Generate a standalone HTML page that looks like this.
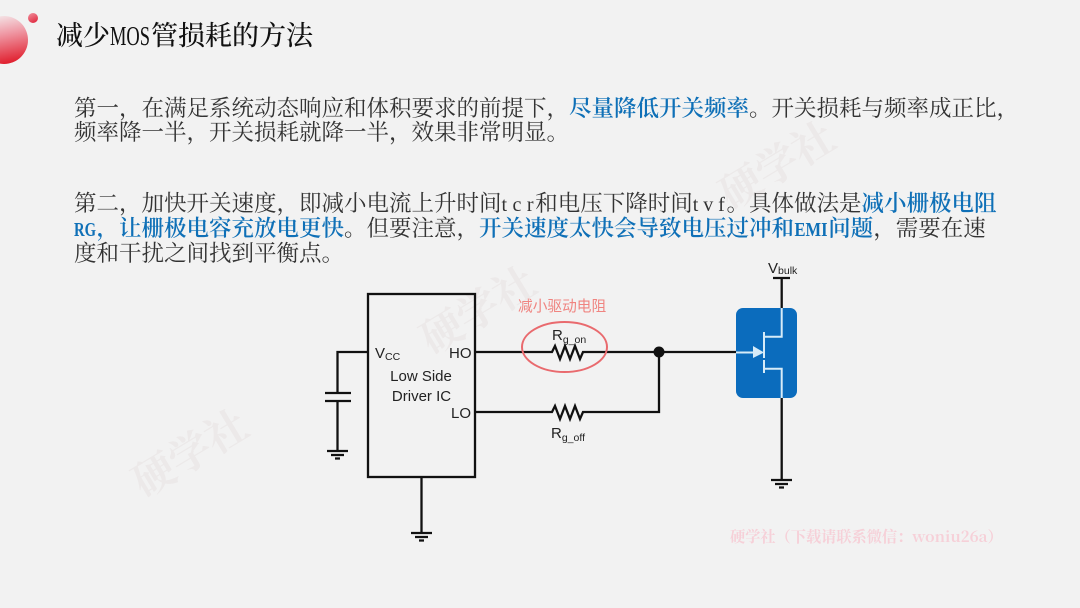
<!DOCTYPE html>
<html lang="zh">
<head>
<meta charset="utf-8">
<style>
html,body{margin:0;padding:0;background:#f2f2f2;width:1080px;height:608px;overflow:hidden}
svg{display:block;filter:blur(0.35px)}
.t{font-family:"Noto Serif CJK SC",serif;font-size:22.5px;fill:#333}
.h{font-family:"Liberation Serif",serif;font-size:20px;fill:#333}
.b{fill:#0f70b7;font-weight:600}
.w{font-family:"Noto Serif CJK SC",serif;font-size:42px;font-weight:700;fill:#ecE9e9}
.l{font-family:"Liberation Sans",sans-serif;font-size:15px;fill:#222}
.s{font-size:10.5px}
.k{fill:none;stroke:#111;stroke-width:2.3}
.m{fill:none;stroke:#d6ebf8;stroke-width:2}
</style>
</head>
<body>
<svg width="1080" height="608" viewBox="0 0 1080 608" xmlns="http://www.w3.org/2000/svg">
<defs>
<linearGradient id="g" x1="0.3" y1="0" x2="0.5" y2="1">
<stop offset="0" stop-color="#f4e6e8"/>
<stop offset="0.4" stop-color="#ef98a4"/>
<stop offset="1" stop-color="#e0202f"/>
</linearGradient>
<linearGradient id="g2" x1="0.2" y1="0" x2="0.7" y2="1">
<stop offset="0" stop-color="#f08a98"/>
<stop offset="1" stop-color="#e02a40"/>
</linearGradient>
</defs>
<rect width="1080" height="608" fill="#f2f2f2"/>
<circle cx="4" cy="40" r="24" fill="url(#g)"/>
<circle cx="33" cy="18" r="5" fill="url(#g2)"/>

<text x="56" y="45" font-family="'Noto Serif CJK SC',serif" font-size="27" fill="#111" font-weight="500">减少</text>
<text x="110" y="45" font-family="'Liberation Serif',serif" font-size="27" fill="#111" textLength="40" lengthAdjust="spacingAndGlyphs">MOS</text>
<text x="151" y="45" font-family="'Noto Serif CJK SC',serif" font-size="27" fill="#111" font-weight="500">管损耗的方法</text>

<g transform="rotate(-31 190 453)"><text class="w" x="190" y="468" text-anchor="middle">硬学社</text></g>
<g transform="rotate(-31 478 310)"><text class="w" x="478" y="325" text-anchor="middle">硬学社</text></g>
<g transform="rotate(-31 777 165)"><text class="w" x="777" y="180" text-anchor="middle">硬学社</text></g>

<text class="t" x="74" y="116">第一，在满足系统动态响应和体积要求的前提下，<tspan class="b">尽量降低开关频率</tspan>。开关损耗与频率成正比，</text>
<text class="t" x="74" y="140">频率降一半，开关损耗就降一半，效果非常明显。</text>

<text class="t" x="74" y="211">第二，加快开关速度，即减小电流上升时间</text>
<text class="h" x="501.500" y="211" textLength="32" lengthAdjust="spacing">tcr</text>
<text class="t" x="535.250" y="211">和电压下降时间</text>
<text class="h" x="692.750" y="211" textLength="32" lengthAdjust="spacing">tvf</text>
<text class="t" x="726.500" y="211">。具体做法是<tspan class="b">减小栅极电阻</tspan></text>

<text class="h b" x="74" y="236" textLength="22" lengthAdjust="spacingAndGlyphs">RG</text>
<text class="t" x="96.500" y="236"><tspan class="b">，让栅极电容充放电更快</tspan>。但要注意，<tspan class="b">开关速度太快会导致电压过冲和</tspan></text>
<text class="h b" x="794.500" y="236" textLength="33" lengthAdjust="spacingAndGlyphs">EMI</text>
<text class="t" x="828.250" y="236"><tspan class="b">问题</tspan>，需要在速</text>

<text class="t" x="74" y="261">度和干扰之间找到平衡点。</text>

<!-- IC -->
<rect class="k" x="368" y="294" width="107" height="183"/>
<!-- VCC and capacitor -->
<path class="k" d="M368 352H337.5V393M325 393H351M325 401H351M337.5 401V451"/>
<path class="k" d="M327 451H348M331 455H344M335 458.500H340"/>
<!-- IC ground -->
<path class="k" d="M421.500 477V533M411 533H432M415 537H428M419 540.500H424"/>
<!-- HO/LO -->
<path class="k" d="M475 352H552L555 346L560 359L565 346L570 359L575 346L580 359L583 352H737"/>
<path class="k" d="M475 412H552L555 406L560 419L565 406L570 419L575 406L580 419L583 412H659V352"/>
<circle cx="659" cy="352" r="5.500" fill="#111"/>
<ellipse cx="564.500" cy="347" rx="42.500" ry="25" fill="none" stroke="#e96a6e" stroke-width="2"/>
<text x="518" y="311" font-family="'Liberation Sans','Noto Sans CJK SC',sans-serif" font-size="14.700" fill="#f08480">减小驱动电阻</text>

<!-- MOSFET -->
<path class="k" d="M773 278H790M781.700 278V308M781.700 398V480M771 480H792M775 484H788M779 487.500H784"/>
<rect x="736" y="308" width="61" height="90" rx="7" fill="#0b6cbd"/>
<path class="m" d="M736 352.500H755M764 332V358M764 360V373M764 336.700H781.700V308M764 368.700H781.700V398"/>
<path d="M753 346L764 352.500L753 358Z" fill="#d6ebf8"/>

<!-- Labels -->
<text class="l" x="375" y="358" font-size="15">V<tspan class="s" dy="2">CC</tspan></text>
<text class="l" x="449" y="358">HO</text>
<text class="l" x="421" y="381" text-anchor="middle">Low Side</text>
<text class="l" x="421.500" y="401" text-anchor="middle">Driver IC</text>
<text class="l" x="451" y="418">LO</text>
<text class="l" x="552" y="340">R<tspan class="s" dy="3">g_on</tspan></text>
<text class="l" x="551" y="438">R<tspan class="s" dy="3">g_off</tspan></text>
<text class="l" x="768" y="273">V<tspan class="s" dy="1">bulk</tspan></text>

<text x="730" y="542" font-family="'Noto Serif CJK SC',serif" font-size="15.200" font-weight="700" fill="#f6d0d8">硬学社（下载请联系微信：woniu26a）</text>
</svg>
</body>
</html>
